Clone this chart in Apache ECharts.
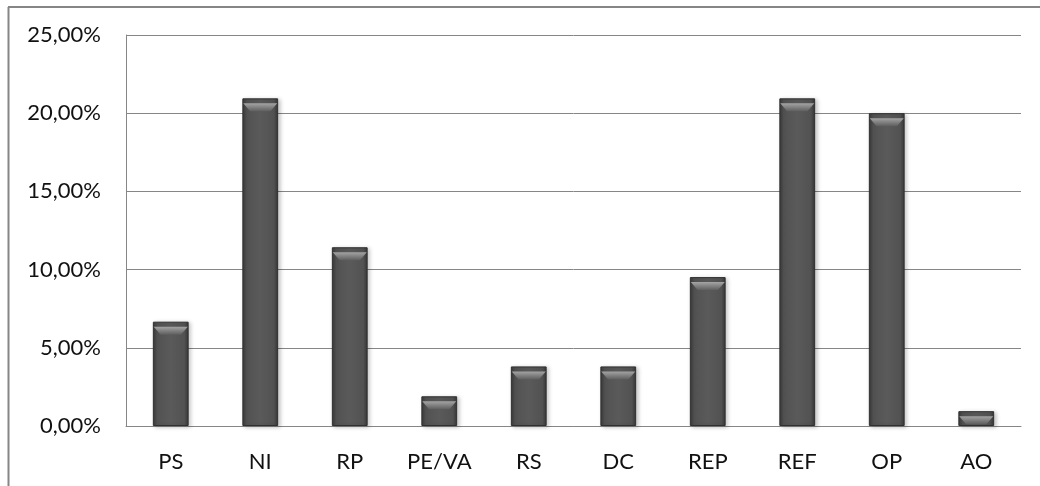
<!DOCTYPE html>
<html>
<head>
<meta charset="utf-8">
<style>
html,body{margin:0;padding:0;background:#fff;}
#chart{width:1040px;height:486px;}
</style>
<script src="https://cdn.jsdelivr.net/npm/echarts@6/dist/echarts.min.js"></script>
</head>
<body>
<div id="chart"></div>
<script>
const categories = ['PS','NI','RP','PE/VA','RS','DC','REP','REF','OP','AO'];
const values = [6.67, 20.95, 11.43, 1.90, 3.81, 3.81, 9.52, 20.95, 20.00, 0.95];
const yTicks = [0, 5, 10, 15, 20, 25];

const chart = echarts.init(document.getElementById('chart'));
const fontFamily = 'Lato, "Open Sans", sans-serif';
chart.setOption({
  animation: false,
  backgroundColor: '#fff',
  grid: {left: 126, right: 19, top: 35, bottom: 60, containLabel: false},
  graphic: [
    {type: 'line', shape: {x1: 8.5, y1: 7, x2: 8.5, y2: 486}, style: {stroke: '#868686', lineWidth: 2}},
    {type: 'line', shape: {x1: 8, y1: 7, x2: 1040, y2: 7}, style: {stroke: '#868686', lineWidth: 2}}
  ],
  xAxis: {
    type: 'category',
    data: categories,
    axisLine: {show: true, lineStyle: {color: '#868686', width: 1}},
    axisTick: {show: false},
    axisLabel: {color: '#111', fontSize: 22, fontFamily: fontFamily, margin: 25}
  },
  yAxis: {
    type: 'value',
    min: yTicks[0],
    max: yTicks[yTicks.length - 1],
    interval: 5,
    axisLine: {show: true, lineStyle: {color: '#868686', width: 1}},
    axisTick: {show: false},
    splitLine: {show: true, lineStyle: {color: '#868686', width: 1}},
    axisLabel: {
      color: '#111', fontSize: 22, fontFamily: fontFamily, margin: 25,
      formatter: v => v.toFixed(2).replace('.', ',') + '%'
    }
  },
  series: [{
    type: 'bar',
    data: values,
    barWidth: '40%',
    itemStyle: {
      color: new echarts.graphic.LinearGradient(0, 0, 1, 0, [
        {offset: 0, color: '#383838'},
        {offset: 0.12, color: '#525252'},
        {offset: 0.5, color: '#5a5a5a'},
        {offset: 0.88, color: '#525252'},
        {offset: 1, color: '#363636'}
      ]),
      borderColor: '#303030',
      borderWidth: 1,
      shadowColor: 'rgba(0,0,0,0.22)',
      shadowBlur: 4,
      shadowOffsetX: 2,
      shadowOffsetY: 1
    }
  }, {
    type: 'pictorialBar',
    data: values,
    symbol: 'path://M0,0 L20,0 L16,4 L4,4 Z',
    symbolSize: [34, 8],
    symbolPosition: 'end',
    symbolOffset: [0, 5],
    z: 3,
    silent: true,
    itemStyle: {
      color: new echarts.graphic.LinearGradient(0, 0, 0, 1, [
        {offset: 0, color: '#a4a4a4'},
        {offset: 1, color: '#5e5e5e'}
      ])
    }
  }]
});
</script>
</body>
</html>
